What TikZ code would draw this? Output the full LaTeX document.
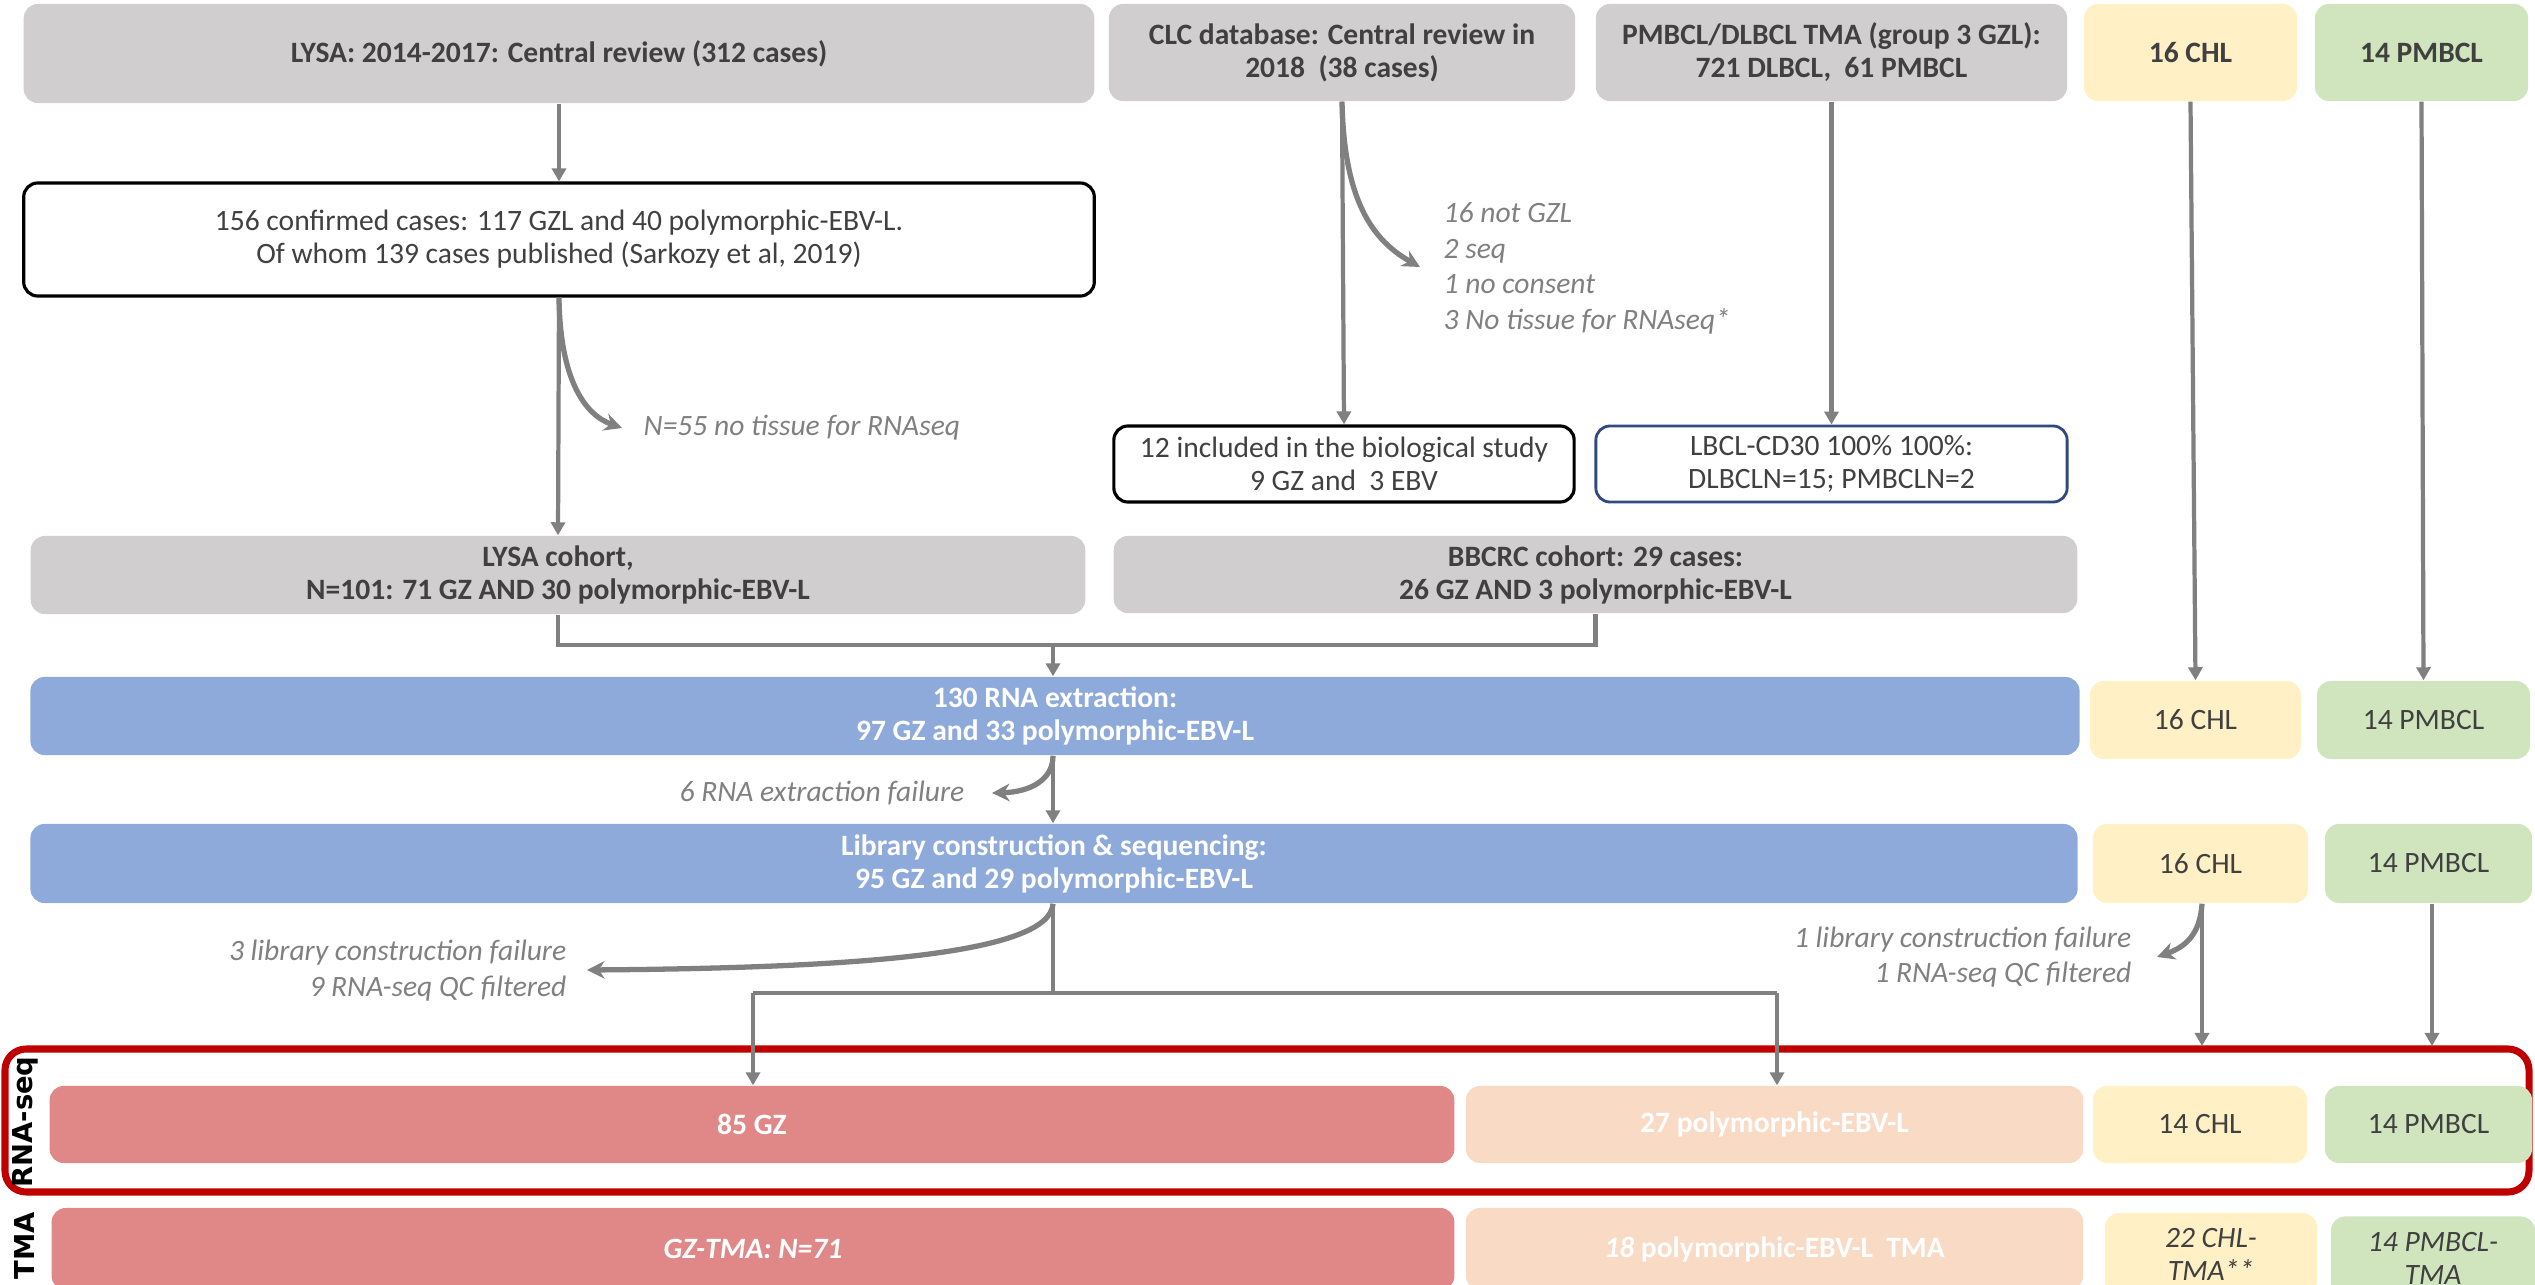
\documentclass[tikz,border=0pt]{standalone}
\usepackage{fontspec}
\setmainfont{Carlito}
\newfontfamily\labfont{DejaVu Sans}
\usetikzlibrary{arrows.meta}
\definecolor{boxgray}{HTML}{D0CECE}
\definecolor{txtdark}{HTML}{404040}
\definecolor{boxblue}{HTML}{8EAADB}
\definecolor{boxred}{HTML}{E08888}
\definecolor{boxpeach}{HTML}{F8DAC5}
\definecolor{boxyellow}{HTML}{FFF0C6}
\definecolor{boxgreen}{HTML}{D0E5BE}
\definecolor{arrgray}{HTML}{808080}
\definecolor{notegray}{HTML}{808080}
\definecolor{framered}{HTML}{C00000}
\definecolor{navyline}{HTML}{2F4B7C}
\begin{document}
\begin{tikzpicture}[x=0.01cm,y=-0.01cm,
  sz/.style 2 args={minimum width=#1cm, minimum height=#2cm},
  base/.style={rectangle, rounded corners=4pt, inner sep=0pt, align=center, text=txtdark,
    font=\fontsize{8.4}{9.4}\selectfont},
  bbase/.style={base, font=\fontsize{8.4}{9.4}\selectfont\bfseries},
  graybox/.style={bbase, fill=boxgray},
  bluebox/.style={bbase, fill=boxblue, text=white},
  redbox/.style={bbase, fill=boxred, text=white},
  peachbox/.style={bbase, fill=boxpeach, text=white},
  ybox/.style={base, fill=boxyellow},
  gbox/.style={base, fill=boxgreen},
  wbox/.style={base, draw=black, line width=0.9pt, fill=white},
  nbox/.style={base, draw=navyline, line width=0.8pt, fill=white},
  note/.style={inner sep=0pt, text=notegray, font=\fontsize{8.4}{10.1}\selectfont\itshape},
  ln/.style={draw=arrgray, line width=1.2pt},
  arr/.style={ln, -{Triangle[length=3.7pt,width=4pt]}},
  carr/.style={draw=arrgray, line width=1.5pt, -{Stealth[length=5pt,width=5pt]}},
  sidelab/.style={rotate=90, inner sep=0pt, font=\labfont\fontsize{7.8}{9}\selectfont\bfseries}
]
\useasboundingbox (0,0) rectangle (2535,1285);
\clip (0,0) rectangle (2535,1285);

% row 1
\node[graybox, sz={10.70}{0.99}] (lysa) at (559,53.5) {LYSA: 2014-2017: Central review (312 cases)};
\node[graybox, sz={4.66}{0.97}] (clc) at (1342,52.5) {CLC database: Central review in\\2018~ (38 cases)};
\node[graybox, sz={4.71}{0.97}] (pmb) at (1831.5,52.5) {PMBCL/DLBCL TMA (group 3 GZL):\\721 DLBCL,~ 61 PMBCL};
\node[ybox, sz={2.13}{0.97}, font=\fontsize{8.4}{9.4}\selectfont\bfseries] (chlA) at (2190.5,52.5) {16 CHL};
\node[gbox, sz={2.13}{0.97}, font=\fontsize{8.4}{9.4}\selectfont\bfseries] (pmA) at (2421.5,52.5) {14 PMBCL};

% row 2
\node[wbox, sz={10.70}{1.13}] (conf) at (559,239.5) {156 confirmed cases: 117 GZL and 40 polymorphic-EBV-L.\\Of whom 139 cases published (Sarkozy et al, 2019)};

% row 3
\node[wbox, sz={4.60}{0.76}] (incl) at (1344,464) {12 included in the biological study\\9 GZ and~ 3 EBV};
\node[nbox, sz={4.71}{0.76}] (lbcl) at (1831.5,464) {LBCL-CD30 100\% 100\%:\\DLBCLN=15; PMBCLN=2};

% row 4
\node[graybox, sz={10.54}{0.78}] (lysac) at (558,575) {LYSA cohort,\\N=101: 71 GZ AND 30 polymorphic-EBV-L};
\node[graybox, sz={9.63}{0.77}] (bbcrc) at (1595.5,574.5) {BBCRC cohort: 29 cases:\\26 GZ AND 3 polymorphic-EBV-L};

% row 5
\node[bluebox, sz={20.48}{0.78}] (rna) at (1055,716) {130 RNA extraction:\\97 GZ and 33 polymorphic-EBV-L};
\node[ybox, sz={2.11}{0.78}] (chlB) at (2195.5,720) {16 CHL};
\node[gbox, sz={2.13}{0.78}] (pmB) at (2423.5,720) {14 PMBCL};

% row 6
\node[bluebox, sz={20.46}{0.79}] (lib) at (1054,863.5) {Library construction \& sequencing:\\95 GZ and 29 polymorphic-EBV-L};
\node[ybox, sz={2.15}{0.79}] (chlC) at (2200.5,863.5) {16 CHL};
\node[gbox, sz={2.07}{0.79}] (pmC) at (2428.5,863.5) {14 PMBCL};

% RNA-seq frame
\draw[draw=framered, line width=2pt, rounded corners=6pt] (5,1049) rectangle (2529,1192);
\node[sidelab] (lblrna) at (25,1122) {RNA-seq};
\node[sidelab] (lbltma) at (25,1246) {TMA};

% row 7
\node[redbox, sz={14.04}{0.77}] (gz) at (752,1124.5) {85 GZ};
\node[peachbox, sz={6.17}{0.77}] (poly) at (1774.5,1124.5) {27 polymorphic-EBV-L};
\node[ybox, sz={2.14}{0.77}] (chlD) at (2200,1124.5) {14 CHL};
\node[gbox, sz={2.07}{0.77}] (pmD) at (2428.5,1124.5) {14 PMBCL};

% row 8
\node[redbox, sz={14.02}{0.82}] (gzt) at (753,1249) {\itshape GZ-TMA: N=71};
\node[peachbox, sz={6.17}{0.82}] (polyt) at (1774.5,1249) {\textit{18} polymorphic-EBV-L\ \ TMA};
\node[ybox, sz={2.12}{0.82}, font=\fontsize{8.4}{9.4}\selectfont\itshape] (chlT) at (2211,1254) {22 CHL-\\TMA**};
\node[gbox, sz={2.04}{0.83}, font=\fontsize{8.4}{9.4}\selectfont\itshape] (pmT) at (2433,1258) {14 PMBCL-\\TMA};

% notes
\node[note, anchor=west] (n55) at (643,428) {N=55 no tissue for RNAseq};
\node[note, anchor=west, align=left] (nclc) at (1443,268.5) {16 not GZL\\2 seq\\1 no consent\\3 No tissue for RNAseq*};
\node[note, anchor=east] (nrna) at (965,793) {6 RNA extraction failure};
\node[note, anchor=east, align=right] (nlib) at (567,970.5) {3 library construction failure\\9 RNA-seq QC filtered};
\node[note, anchor=east, align=right] (nchl) at (2132,957) {1 library construction failure\\1 RNA-seq QC filtered};

% coordinates
\coordinate (j1) at (1053,645);
\coordinate (j2) at (1053,993);
\coordinate (b1) at (753,993);
\coordinate (b2) at (1777,993);
\coordinate (c55) at (622,428);
\coordinate (cclc) at (1420,267);
\coordinate (crna) at (992,793);
\coordinate (clib) at (587,970);
\coordinate (cchl) at (2157,957);
\coordinate (fchl) at (2202,1046);
\coordinate (fpm) at (2432,1046);

% connectors
\draw[arr] (lysa.south) -- (conf.north);
\draw[arr] (conf.south) -- (lysac.north);
\draw[carr] (conf.south) .. controls (560,380) and (585,415) .. (c55);
\draw[arr] (clc.south) -- (incl.north);
\draw[carr] (clc.south) .. controls (1344,200) and (1372,240) .. (cclc);
\draw[arr] (pmb.south) -- (lbcl.north);
\draw[arr] (chlA.south) -- (chlB.north);
\draw[arr] (pmA.south) -- (pmB.north);
\draw[ln] (lysac.south) |- (j1) -| (bbcrc.south);
\draw[arr] (j1) -- (j1 |- rna.north);
\draw[carr] (j1 |- rna.south) .. controls (1053,780) and (1030,792) .. (crna);
\draw[arr] (j1 |- rna.south) -- (j1 |- lib.north);
\draw[carr] (j1 |- lib.south) .. controls (1050,955) and (850,968) .. (clib);
\draw[ln] (j1 |- lib.south) -- (j2);
\draw[ln] (b1) -- (b2);
\draw[arr] (b1) -- (b1 |- gz.north);
\draw[arr] (b2) -- (b2 |- poly.north);
\draw[arr] (fchl |- chlC.south) -- (fchl);
\draw[carr] (fchl |- chlC.south) .. controls (2200,935) and (2185,947) .. (cchl);
\draw[arr] (fpm |- pmC.south) -- (fpm);
\end{tikzpicture}
\end{document}
